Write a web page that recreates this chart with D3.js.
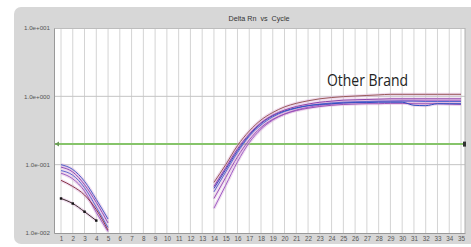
<!DOCTYPE html>
<html><head><meta charset="utf-8">
<script src="https://cdn.jsdelivr.net/npm/d3@7"></script>
<style>html,body{margin:0;padding:0;background:#fff;}svg{display:block;}</style>
</head><body><div id="chart"></div>
<script>
const chartTitle = "Delta Rn  vs  Cycle";
const annotation = "Other Brand";
const xTicks = [1,2,3,4,5,6,7,8,9,10,11,12,13,14,15,16,17,18,19,20,21,22,23,24,25,26,27,28,29,30,31,32,33,34,35];
const yTicks = [10, 1, 0.1, 0.01];
const yTickLabels = ["1.0e+001","1.0e+000","1.0e-001","1.0e-002"];
const threshold = 0.2;

const earlyCycles = [1,2,3,4,5];
const early1 = [0.100, 0.085, 0.057, 0.031, 0.016];
const early2 = [0.092, 0.078, 0.051, 0.028, 0.014];
const early3 = [0.082, 0.070, 0.046, 0.024, 0.012];
const early4 = [0.075, 0.062, 0.041, 0.020, 0.0105];
const early5 = [0.059, 0.048, 0.036, 0.022, 0.011];
const blackCycles = [1,2,3,4];
const early6 = [0.032, 0.027, 0.0205, 0.0152];

const lateCycles = [14,15,16,17,18,19,20,21,22,23,24,25,26,27,28,29,30,31,32,33,34,35];
const late1 = [0.055,0.10,0.19,0.31,0.45,0.58,0.70,0.79,0.86,0.92,0.96,0.99,1.01,1.03,1.05,1.07,1.07,1.07,1.07,1.07,1.07,1.07];
const late2 = [0.048,0.090,0.17,0.28,0.41,0.53,0.63,0.71,0.77,0.82,0.85,0.88,0.89,0.90,0.91,0.92,0.92,0.92,0.92,0.92,0.92,0.92];
const late3 = [0.040,0.078,0.15,0.26,0.38,0.50,0.60,0.67,0.73,0.77,0.80,0.82,0.83,0.84,0.85,0.85,0.85,0.85,0.84,0.84,0.84,0.84];
const late4 = [0.032,0.065,0.13,0.23,0.35,0.46,0.55,0.62,0.67,0.71,0.74,0.76,0.77,0.78,0.78,0.79,0.79,0.78,0.78,0.78,0.77,0.76];
const late5 = [0.045,0.085,0.16,0.27,0.40,0.52,0.61,0.68,0.73,0.76,0.78,0.80,0.81,0.81,0.82,0.82,0.82,0.74,0.73,0.78,0.78,0.78];
const late6 = [0.023,0.050,0.11,0.21,0.33,0.45,0.55,0.63,0.69,0.74,0.77,0.80,0.82,0.83,0.84,0.85,0.86,0.86,0.86,0.86,0.86,0.86];

const series = [
  {x: earlyCycles, y: early1, color: "#4a5fc9"},
  {x: earlyCycles, y: early2, color: "#8e4fb8"},
  {x: earlyCycles, y: early3, color: "#5a6ad0"},
  {x: earlyCycles, y: early4, color: "#9a5cc0"},
  {x: earlyCycles, y: early5, color: "#8a3a4a"},
  {x: blackCycles, y: early6, color: "#3a2a2a", marks: true},
  {x: lateCycles, y: late6, color: "#a060c8"},
  {x: lateCycles, y: late4, color: "#9b52b8"},
  {x: lateCycles, y: late3, color: "#5a6ad0"},
  {x: lateCycles, y: late5, color: "#3050c0"},
  {x: lateCycles, y: late2, color: "#8e44ad"},
  {x: lateCycles, y: late1, color: "#9a5a5a"}
];

const W = 471, H = 247;
const svg = d3.select("#chart").append("svg").attr("width", W).attr("height", H);
svg.append("rect").attr("width", W).attr("height", H).attr("fill", "#fff");
svg.append("rect").attr("x", 14).attr("y", 7).attr("width", 480).attr("height", 237).attr("rx", 7).attr("fill", "#d7d7d7");

const L = 54, R = 465, T = 28, B = 233;
svg.append("rect").attr("x", L).attr("y", T).attr("width", R - L).attr("height", B - T).attr("fill", "#fff");

const x = d3.scaleLinear().domain([0.405, 35.34]).range([L, R]);
const y = d3.scaleLog().domain([0.01, 10]).range([B, T]);

// grid
svg.append("g").selectAll("line").data(xTicks).join("line")
  .attr("x1", d => x(d)).attr("x2", d => x(d)).attr("y1", T).attr("y2", B)
  .attr("stroke", "#d4d4d4").attr("stroke-width", 1);
svg.append("g").selectAll("line").data([1, 0.1]).join("line")
  .attr("x1", L).attr("x2", R).attr("y1", d => y(d)).attr("y2", d => y(d))
  .attr("stroke", "#c4c4c4").attr("stroke-width", 1);
svg.append("line").attr("x1", L).attr("x2", R).attr("y1", T + 0.5).attr("y2", T + 0.5).attr("stroke", "#bdbdbd");
svg.append("line").attr("x1", R).attr("x2", R).attr("y1", T).attr("y2", B).attr("stroke", "#b0b0b0");

// axes
const fmt = d3.scaleOrdinal().domain(yTicks).range(yTickLabels);
const yAxis = svg.append("g").attr("transform", `translate(${L},0)`)
  .call(d3.axisLeft(y).tickValues(yTicks).tickSize(0).tickPadding(4).tickFormat(d => fmt(d)));
yAxis.select(".domain").attr("stroke", "#999");
yAxis.selectAll("text").attr("font-family", "Liberation Sans, Arial, sans-serif").attr("font-size", 6.2).attr("fill", "#555");

const xAxis = svg.append("g").attr("transform", `translate(0,${B})`)
  .call(d3.axisBottom(x).tickValues(xTicks).tickSize(0).tickPadding(4).tickFormat(d3.format("d")));
xAxis.select(".domain").attr("stroke", "#999");
xAxis.selectAll("text").attr("font-family", "Liberation Sans, Arial, sans-serif").attr("font-size", 6.3).attr("fill", "#555");

// threshold
svg.append("line").attr("x1", L + 1).attr("x2", R).attr("y1", y(threshold)).attr("y2", y(threshold))
  .attr("stroke", "#86c46a").attr("stroke-width", 2);
svg.append("path").attr("d", `M${L + 1},${y(threshold)} l4,-2.5 l0,5 z`).attr("fill", "#6a9a58");
svg.append("rect").attr("x", R - 2).attr("y", y(threshold) - 2.5).attr("width", 3).attr("height", 5).attr("fill", "#333");

// curves
const line = d3.line().x(d => x(d[0])).y(d => y(d[1])).curve(d3.curveMonotoneX);
const g = svg.append("g");
series.forEach(s => {
  const pts = s.x.map((c, i) => [c, s.y[i]]);
  g.append("path").attr("d", line(pts)).attr("fill", "none")
    .attr("stroke", "#d9a8d6").attr("stroke-width", 3.2).attr("stroke-opacity", 0.4);
});
series.forEach(s => {
  const pts = s.x.map((c, i) => [c, s.y[i]]);
  g.append("path").attr("d", line(pts)).attr("fill", "none")
    .attr("stroke", s.color).attr("stroke-width", 1);
  if (s.marks) {
    g.selectAll(null).data(pts).join("rect")
      .attr("x", d => x(d[0]) - 1.2).attr("y", d => y(d[1]) - 1.2)
      .attr("width", 2.4).attr("height", 2.4).attr("fill", "#111");
  }
});

// title & annotation
svg.append("text").attr("x", 259).attr("y", 21).attr("text-anchor", "middle")
  .attr("font-family", "Liberation Sans, Arial, sans-serif").attr("font-size", 7.2).attr("fill", "#333")
  .attr("xml:space", "preserve").text(chartTitle);
svg.append("text").attr("x", 327).attr("y", 85.5)
  .attr("font-family", "Open Sans, sans-serif").attr("font-size", 16).attr("fill", "#222")
  .attr("textLength", 81).attr("lengthAdjust", "spacingAndGlyphs").text(annotation);
</script></body></html>
